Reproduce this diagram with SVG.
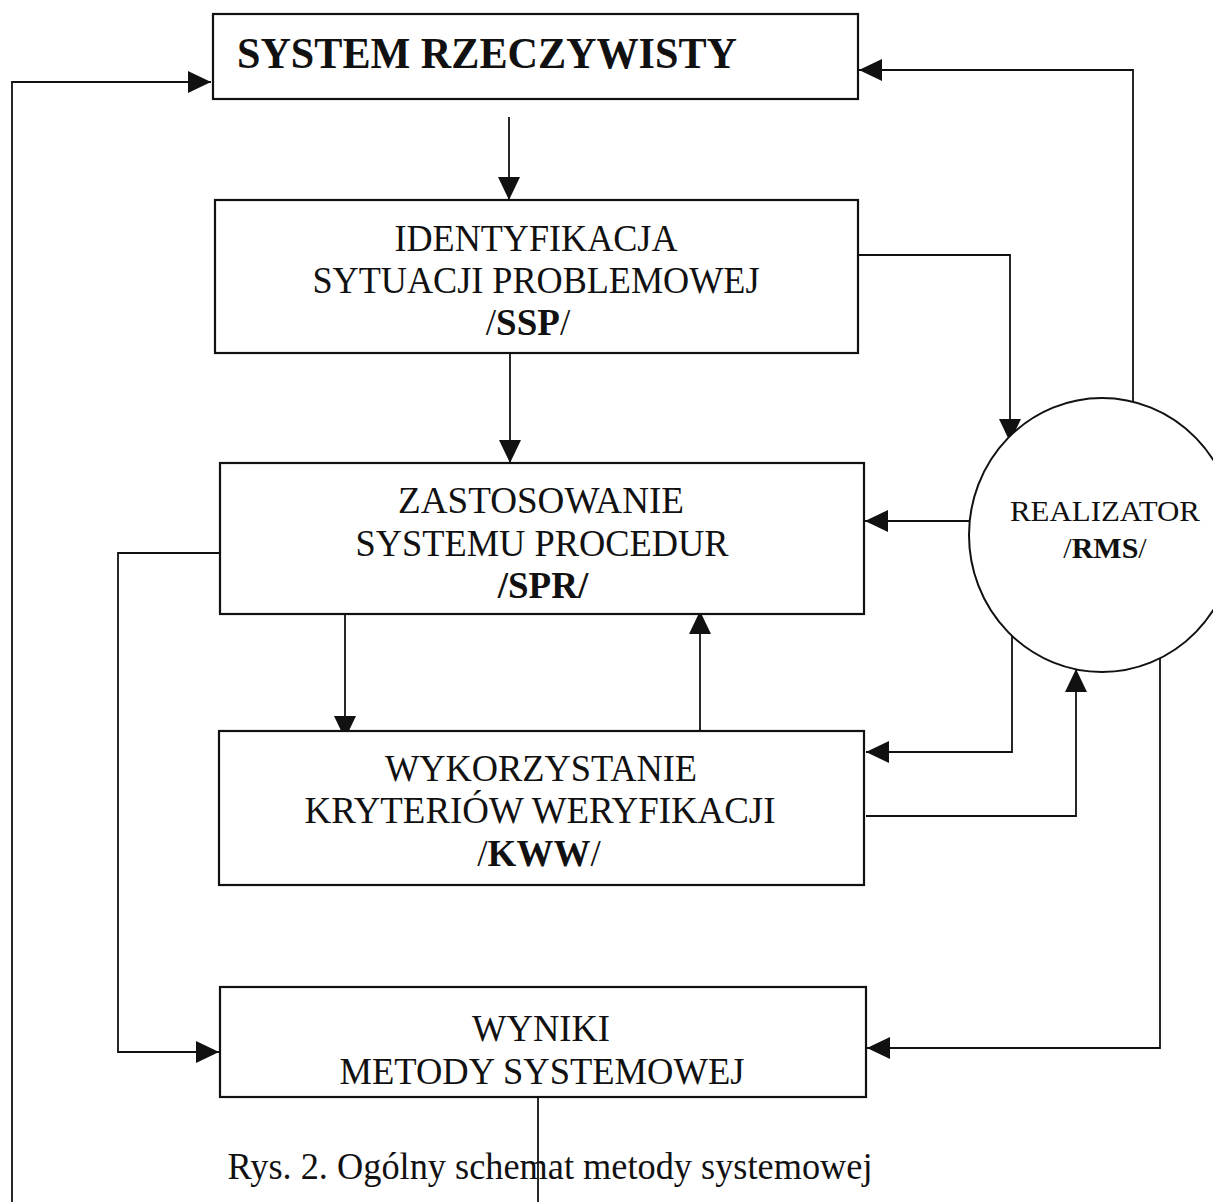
<svg xmlns="http://www.w3.org/2000/svg" width="1213" height="1202" viewBox="0 0 1213 1202">
<style>
.box{fill:#fff;stroke:#111;stroke-width:2.2}
.con{fill:none;stroke:#111;stroke-width:1.8}
.t{font-family:"Liberation Serif","Times New Roman",serif;fill:#111;text-anchor:middle}
.r{font-size:37px}
.b{font-weight:bold}
</style>
<defs>
<marker id="ah" markerUnits="userSpaceOnUse" markerWidth="26" markerHeight="22" refX="23" refY="11" orient="auto">
<path d="M0,0 L23,11 L0,22 Z" fill="#111"/>
</marker>
</defs>
<rect width="1213" height="1202" fill="#fff"/>
<g id="connectors">
<path class="con" d="M12 1202 V82 H211" marker-end="url(#ah)"/>
<path class="con" d="M1133 402 V70 H859" marker-end="url(#ah)"/>
<path class="con" d="M509 117 V200" marker-end="url(#ah)"/>
<path class="con" d="M859 255 H1010 V442" marker-end="url(#ah)"/>
<path class="con" d="M510 343 V463" marker-end="url(#ah)"/>
<path class="con" d="M969 521 H865" marker-end="url(#ah)"/>
<path class="con" d="M220 553 H118 V1052 H219" marker-end="url(#ah)"/>
<path class="con" d="M345 612 V739" marker-end="url(#ah)"/>
<path class="con" d="M700 735 V611" marker-end="url(#ah)"/>
<path class="con" d="M1012 626 V752 H866" marker-end="url(#ah)"/>
<path class="con" d="M866 816 H1076 V669" marker-end="url(#ah)"/>
<path class="con" d="M1160 645 V1048 H867" marker-end="url(#ah)"/>
<path class="con" d="M538 1097 V1202"/>
</g>
<g id="system-rzeczywisty">
<rect class="box" x="213" y="14" width="645" height="85"/>
<text class="t b" x="487" y="68" font-size="45" textLength="500" lengthAdjust="spacingAndGlyphs">SYSTEM RZECZYWISTY</text>
</g>
<g id="ssp">
<rect class="box" x="215" y="200" width="643" height="153"/>
<text class="t r" x="536" y="251" textLength="283" lengthAdjust="spacingAndGlyphs">IDENTYFIKACJA</text>
<text class="t r" x="536" y="293" textLength="447" lengthAdjust="spacingAndGlyphs">SYTUACJI PROBLEMOWEJ</text>
<text class="t r" x="528" y="335">/<tspan class="b">SSP</tspan>/</text>
</g>
<g id="spr">
<rect class="box" x="220" y="463" width="644" height="151"/>
<text class="t r" x="541" y="513" textLength="286" lengthAdjust="spacingAndGlyphs">ZASTOSOWANIE</text>
<text class="t r" x="542" y="556" textLength="373" lengthAdjust="spacingAndGlyphs">SYSTEMU PROCEDUR</text>
<text class="t r b" x="543" y="598">/SPR/</text>
</g>
<g id="kww">
<rect class="box" x="219" y="731" width="645" height="154"/>
<text class="t r" x="541" y="781" textLength="312" lengthAdjust="spacingAndGlyphs">WYKORZYSTANIE</text>
<text class="t r" x="540" y="823" textLength="471" lengthAdjust="spacingAndGlyphs">KRYTERIÓW WERYFIKACJI</text>
<text class="t r" x="539" y="866">/<tspan class="b">KWW</tspan>/</text>
</g>
<g id="wyniki">
<rect class="box" x="220" y="987" width="646" height="110"/>
<text class="t r" x="541" y="1041" textLength="138" lengthAdjust="spacingAndGlyphs">WYNIKI</text>
<text class="t r" x="542" y="1084" textLength="405" lengthAdjust="spacingAndGlyphs">METODY SYSTEMOWEJ</text>
</g>
<g id="rms">
<ellipse cx="1102" cy="535" rx="133" ry="137" fill="#fff" stroke="#111" stroke-width="2"/>
<text class="t" x="1105" y="521" font-size="30" textLength="190" lengthAdjust="spacingAndGlyphs">REALIZATOR</text>
<text class="t" x="1105" y="558" font-size="30">/<tspan class="b">RMS</tspan>/</text>
</g>
<text class="t" x="550" y="1179" font-size="37" textLength="645" lengthAdjust="spacingAndGlyphs">Rys. 2. Ogólny schemat metody systemowej</text>
</svg>
